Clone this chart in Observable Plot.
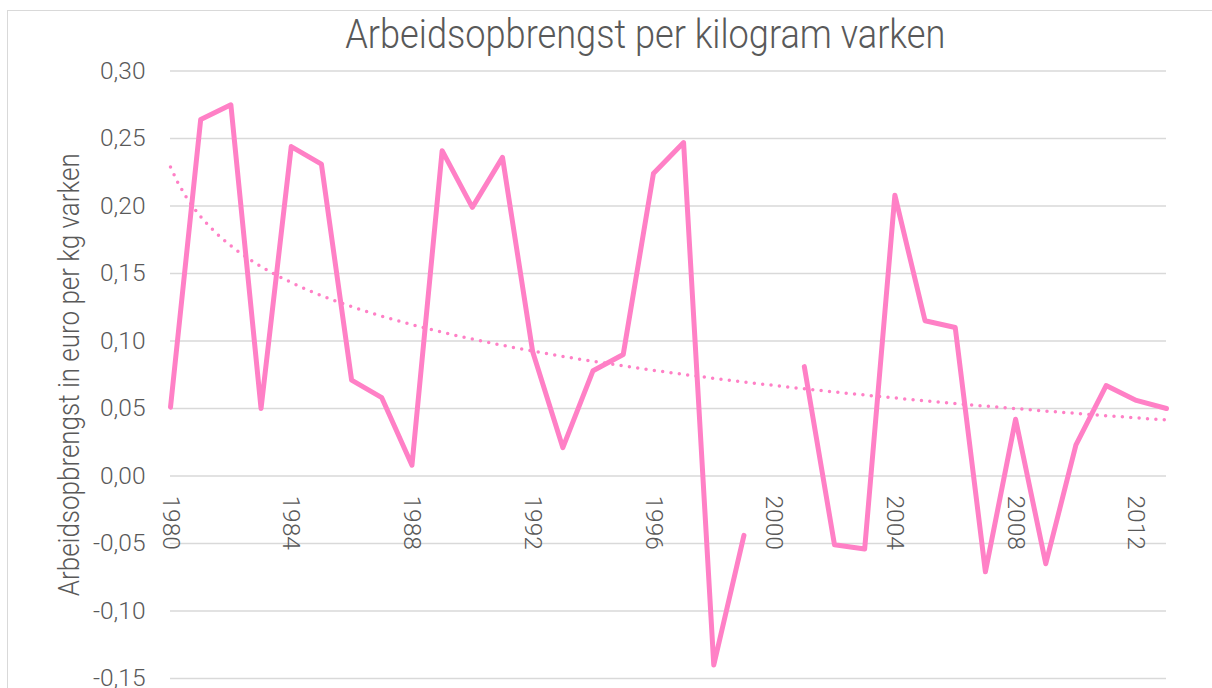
<!DOCTYPE html>
<html>
<head>
<meta charset="utf-8">
<script src="https://cdn.jsdelivr.net/npm/d3@7"></script>
<script src="https://cdn.jsdelivr.net/npm/@observablehq/plot@0.6"></script>
<style>
  html, body { margin: 0; padding: 0; background: #ffffff; }
  body { width: 1212px; height: 688px; overflow: hidden; position: relative; }
  #frame { position: absolute; left: 7px; top: 10px; width: 1400px; height: 1000px;
           border-left: 1.3px solid #d9d9d9; border-top: 1.3px solid #d9d9d9; pointer-events: none; z-index: 2; }
  #title { box-sizing: border-box; height: 62px; padding-top: 14px; padding-left: 78px; width: 1212px;
           text-align: center; font-family: Roboto, "DejaVu Sans Condensed", sans-serif; font-weight: 300;
           font-size: 41px; line-height: 1; color: #595959; white-space: nowrap; }
  #titleText { display: inline-block; transform-origin: 50% 50%; }
  #chart svg { display: block; }
</style>
</head>
<body>
<div id="frame"></div>
<div id="title"><span id="titleText">Arbeidsopbrengst per kilogram varken</span></div>
<div id="chart"></div>
<script>
const years = [1980, 1981, 1982, 1983, 1984, 1985, 1986, 1987, 1988, 1989,
               1990, 1991, 1992, 1993, 1994, 1995, 1996, 1997, 1998, 1999,
               2000, 2001, 2002, 2003, 2004, 2005, 2006, 2007, 2008, 2009,
               2010, 2011, 2012, 2013];
const values = [0.051, 0.264, 0.275, 0.050, 0.244, 0.231, 0.071, 0.058, 0.008, 0.241,
                0.199, 0.236, 0.092, 0.021, 0.078, 0.090, 0.224, 0.247, -0.140, -0.044,
                null, 0.081, -0.051, -0.054, 0.208, 0.115, 0.110, -0.071, 0.042, -0.065,
                0.023, 0.067, 0.056, 0.050];
const yTicks = [-0.15, -0.10, -0.05, 0.00, 0.05, 0.10, 0.15, 0.20, 0.25, 0.30];
const xTickYears = [1980, 1984, 1988, 1992, 1996, 2000, 2004, 2008, 2012];
const yLabel = "Arbeidsopbrengst in euro per kg varken";

const pink = "#FF80C6";
const textColor = "#595959";
const tickFont = "Roboto, 'Liberation Sans', sans-serif";

const rows = years.map((year, i) => ({year, value: values[i]}));

// Logarithmic trendline (least squares on ln(index)), as a spreadsheet trendline does
const fit = rows.filter(d => d.value != null);
const lx = fit.map(d => Math.log(d.year - years[0] + 1));
const ly = fit.map(d => d.value);
const mx = d3.mean(lx), my = d3.mean(ly);
const b = d3.sum(lx, (v, i) => (v - mx) * (ly[i] - my)) / d3.sum(lx, v => (v - mx) ** 2);
const a = my - b * mx;
const trend = d3.range(years[0], years[years.length - 1] + 1e-9, 0.25)
  .map(t => ({year: t, value: a + b * Math.log(t - years[0] + 1)}));

const chart = Plot.plot({
  width: 1212,
  height: 626,
  marginLeft: 170,
  marginRight: 46,
  marginTop: 8.5,
  marginBottom: 10,
  style: {background: "transparent", overflow: "visible", color: textColor},
  x: {domain: [years[0], years[years.length - 1]], axis: null},
  y: {domain: [-0.15, 0.30]},
  marks: [
    Plot.ruleY(yTicks, {stroke: "#d9d9d9", strokeWidth: 1.3}),
    Plot.axisY(yTicks, {
      tickSize: 0, tickPadding: 25, label: null,
      tickFormat: d => d.toFixed(2).replace(".", ","),
      fontSize: 24.5, fontFamily: tickFont, fontWeight: 300, fill: textColor
    }),
    Plot.text(xTickYears, {
      x: d => d, y: d => 0, text: d => String(d),
      rotate: 90, textAnchor: "start", lineAnchor: "middle", dy: 19.5,
      fontSize: 24.5, fontFamily: tickFont, fontWeight: 300, fill: textColor
    }),
    Plot.text([yLabel], {
      frameAnchor: "left", text: d => d, rotate: -90, dx: -101,
      textAnchor: "middle", lineAnchor: "middle",
      fontSize: 29, fontFamily: tickFont, fontWeight: 300,
      fill: textColor
    }),
    Plot.line(trend, {
      x: "year", y: "value", stroke: pink, strokeWidth: 3.5,
      strokeDasharray: "0 8.4", strokeLinecap: "round"
    }),
    Plot.line(rows, {
      x: "year", y: "value", stroke: pink, strokeWidth: 5,
      strokeLinejoin: "round", strokeLinecap: "round"
    })
  ]
});
document.getElementById("chart").appendChild(chart);

// fit the condensed look of the original: squeeze title and axis title to their measured lengths
const titleSpan = document.getElementById("titleText");
const tw = titleSpan.getBoundingClientRect().width;
if (tw > 0) titleSpan.style.transform = `scaleX(${600 / tw})`;
for (const t of chart.querySelectorAll("text")) {
  if (t.textContent === yLabel) {
    t.setAttribute("textLength", 443);
    t.setAttribute("lengthAdjust", "spacingAndGlyphs");
  }
}
</script>
</body>
</html>
